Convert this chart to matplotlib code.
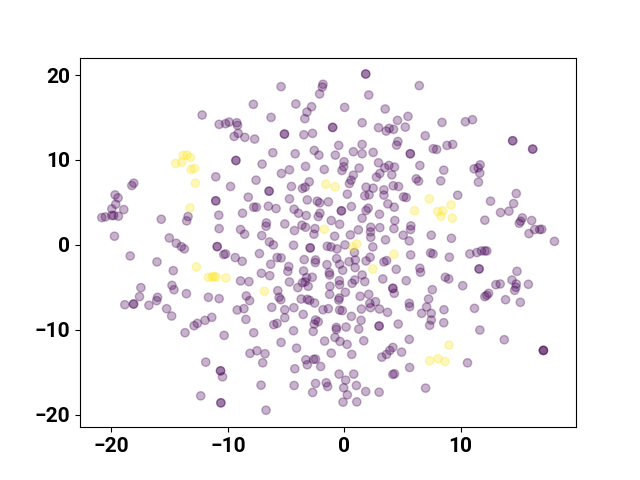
import matplotlib
matplotlib.use("Agg")
import matplotlib.pyplot as plt
import numpy as np

# points (x, y), repeated entries are the darker overlapping dots
class0 = [
    (-12.21, 15.29), (-10.75, 14.19), (-10.20, 14.27), (-9.89, 14.46), (-9.23, 14.38), (-9.17, 14.07),
    (-9.11, 13.13), (-9.46, 12.77), (-8.54, 12.66), (-9.31, 9.94), (-9.31, 9.94), (-11.04, 8.02),
    (-9.77, 6.88), (-8.25, 5.62), (-11.04, 5.19), (-11.04, 5.19), (-10.78, 3.50), (-8.74, 3.73),
    (-10.75, 1.92), (-8.91, 1.81), (-8.56, 1.26), (-15.72, 3.02), (-13.42, 3.34), (-13.54, 2.83),
    (-15.03, 0.82), (-14.43, 0.19), (-18.08, 7.27), (-18.25, 6.99), (-19.69, 5.89), (-19.43, 5.54),
    (-19.63, 4.79), (-19.97, 4.24), (-18.94, 4.16), (-20.83, 3.22), (-20.52, 3.30), (-19.97, 3.46),
    (-19.80, 3.46), (-19.40, 3.38), (-19.74, 1.02),
    (-14.00, -0.20), (-13.74, -0.47), (-10.92, -0.20), (-10.92, -0.20), (-10.20, -1.06), (-10.35, -1.14),
    (-9.37, -1.49), (-8.77, -1.93), (-18.39, -1.30), (-16.09, -2.00), (-14.69, -3.03), (-14.80, -4.76),
    (-14.63, -5.27), (-17.47, -5.03), (-17.59, -6.09), (-16.04, -6.17), (-16.12, -6.56), (-13.56, -5.74),
    (-11.67, -6.17), (-10.75, -6.33), (-8.91, -4.24), (-8.19, -4.32), (-8.42, -6.01), (-8.13, -6.56),
    (-18.85, -7.04), (-18.10, -6.96), (-18.10, -6.96), (-16.78, -7.11), (-15.26, -7.51), (-14.83, -8.37),
    (-9.20, -7.66), (-8.62, -7.51), (-8.45, -8.77), (-11.38, -8.53), (-11.96, -8.88), (-12.62, -9.24),
    (-12.90, -9.51), (-13.68, -10.34), (-10.32, -10.65), (-8.10, -12.77), (-11.90, -13.80),
    (-10.63, -14.82), (-10.63, -14.82), (-10.46, -15.53), (-12.33, -17.77), (-10.60, -18.59), (-10.60, -18.59),
    (1.84, 20.12), (1.84, 20.12), (-5.43, 18.63), (-1.83, 18.91), (-1.89, 18.59), (-2.12, 17.77),
    (2.10, 17.65), (-7.81, 16.55), (-4.16, 16.59), (-2.81, 16.27), (-3.21, 15.64), (-3.39, 14.86),
    (-6.29, 15.01), (0.03, 16.19), (3.51, 16.00), (5.47, 15.13), (4.57, 14.66), (1.53, 14.38),
    (2.94, 13.80), (3.60, 13.40), (3.86, 13.72), (4.23, 13.60), (5.24, 13.87), (-1.00, 13.83), (-1.00, 13.83),
    (-5.14, 13.05), (-5.14, 13.05), (-3.47, 12.97), (-2.73, 13.13), (-7.70, 12.46), (4.60, 12.18),
    (4.49, 11.75), (1.53, 11.83), (-0.48, 11.71), (-2.58, 11.12), (-2.18, 10.57), (-6.14, 10.85),
    (-4.22, 10.73), (-0.77, 10.57), (0.78, 10.97), (1.53, 10.73), (2.48, 10.89), (5.67, 10.73), (5.67, 10.73),
    (-7.06, 9.51), (-0.02, 9.79), (-0.05, 9.20), (-0.20, 8.76), (-3.33, 9.24), (-1.72, 8.88), (-4.71, 8.84),
    (-5.40, 8.41), (1.27, 9.04), (2.94, 9.67), (3.48, 9.08), (3.83, 9.35), (4.31, 9.16), (3.05, 8.41),
    (2.76, 7.98), (4.08, 8.25), (0.78, 8.21), (0.58, 7.62), (0.44, 7.23), (-7.58, 7.62), (6.18, 7.78),
    (-3.01, 7.43), (-3.36, 6.80), (-3.59, 6.64), (-4.54, 6.88), (-6.46, 6.33), (-6.46, 6.33), (1.87, 6.80),
    (2.48, 6.68), (3.40, 6.48), (4.20, 6.96), (4.66, 6.88), (0.26, 5.97), (2.13, 5.89), (1.76, 5.78),
    (3.40, 5.86), (5.09, 5.66), (5.32, 5.58), (-4.71, 5.42), (-3.18, 5.30), (-2.32, 5.15), (-2.12, 4.95),
    (-1.37, 5.07), (-7.78, 4.44), (-7.55, 4.44), (-6.52, 4.56), (-5.86, 4.28), (-4.31, 4.20), (-3.93, 3.73),
    (-3.27, 3.46), (3.74, 4.83), (4.29, 4.44), (0.61, 4.52), (-0.25, 4.01), (-0.25, 4.01), (2.05, 4.32),
    (1.87, 4.05), (3.02, 3.61), (1.53, 3.14), (-2.09, 3.73), (-2.24, 3.34), (-6.69, 2.59), (-6.72, 2.20),
    (-5.11, 2.47), (-1.12, 2.87), (-0.40, 2.43), (4.34, 2.87), (-3.64, 2.32), (-3.33, 2.08), (-4.28, 1.69),
    (-2.52, 1.92), (-2.61, 1.26), (2.27, 2.08), (2.25, 1.53), (2.27, 0.90), (3.05, 2.04), (4.26, 1.92),
    (5.72, 2.24), (5.69, 1.81), (1.21, 1.77), (0.52, 1.18), (-0.83, 1.02), (-7.09, 1.10), (5.06, 1.14),
    (-6.43, 0.35), (3.54, 0.59), (5.58, 0.47),
    (-6.09, 0.00), (-4.36, -0.04), (-2.93, -0.35), (-2.93, -0.35), (-1.46, -0.16), (-1.14, -0.24),
    (-0.63, -0.47), (0.06, 0.00), (2.45, -0.24), (-7.29, -1.02), (-5.77, -1.49), (-5.43, -1.53),
    (-3.44, -1.73), (-2.47, -1.77), (-2.49, -2.08), (-0.66, -1.61), (-0.40, -2.28), (0.41, -1.97),
    (0.95, -1.77), (0.93, -2.67), (1.87, -1.89), (2.22, -1.45), (0.87, -0.90), (3.40, -2.00), (3.63, -1.85),
    (5.70, -1.18), (-6.32, -2.28), (-4.77, -2.55), (-4.85, -3.11), (-3.50, -3.07), (-1.49, -2.32),
    (-0.14, -2.99), (-1.29, -3.26), (-1.26, -3.54), (1.53, -3.54), (4.46, -2.87), (-7.12, -3.34),
    (-6.40, -3.62), (-2.75, -3.81), (-3.24, -3.85), (-4.71, -4.36), (-3.59, -4.44), (-3.36, -4.36),
    (-3.10, -4.87), (-3.99, -5.03), (-0.43, -4.21), (-0.40, -4.68), (-1.23, -4.87), (0.67, -4.52),
    (0.90, -4.13), (1.76, -4.32), (3.31, -4.01), (5.32, -4.21), (4.17, -5.11), (4.17, -5.11), (4.29, -5.70),
    (-5.71, -5.39), (0.09, -5.58), (-1.26, -5.82), (2.10, -5.82), (1.36, -6.05), (-5.60, -6.17),
    (-5.45, -6.45), (-3.70, -6.37), (-3.18, -6.41), (-2.98, -6.53), (-2.55, -6.84), (-0.43, -6.25),
    (-0.48, -6.49), (2.19, -6.88), (2.25, -7.39), (2.68, -6.68), (5.58, -6.88), (5.61, -7.27), (-6.23, -7.35),
    (-4.33, -7.39), (-5.11, -7.63), (-5.11, -8.57), (-3.53, -8.18), (-1.83, -7.63), (-1.37, -7.51),
    (-0.40, -7.67), (-0.17, -7.74), (1.47, -7.55), (3.02, -7.55), (3.71, -7.94), (0.61, -8.41), (1.44, -8.88),
    (-5.77, -9.24), (-6.06, -9.39), (-2.58, -9.32), (-2.47, -8.84), (-2.24, -9.04), (-4.36, -10.10),
    (-2.67, -10.18), (-0.68, -9.71), (-0.68, -9.95), (0.15, -9.67), (1.24, -9.91), (2.99, -9.55), (2.99, -9.55),
    (4.63, -9.32), (-7.78, -10.34), (-1.69, -11.32), (-0.80, -10.89), (-0.37, -11.36), (0.24, -11.71),
    (1.67, -11.28), (5.58, -11.12), (-5.43, -11.48), (-4.10, -12.15), (-7.50, -12.46), (-6.81, -12.81),
    (-1.12, -12.74), (0.64, -12.89), (4.17, -12.07), (3.91, -12.42), (3.63, -12.89), (3.22, -13.21),
    (4.92, -12.62), (-7.01, -13.88), (-3.30, -13.52), (-3.18, -14.11), (-2.64, -13.48), (-2.47, -13.44),
    (-2.03, -14.31), (-4.25, -14.58), (5.61, -14.43), (-0.45, -15.21), (0.81, -15.21), (0.12, -15.92),
    (4.17, -15.25), (4.31, -15.17), (-7.15, -16.51), (-4.31, -16.55), (-2.47, -16.31), (-1.55, -16.23),
    (-1.43, -16.67), (-0.05, -16.82), (1.04, -16.55), (-2.72, -17.37), (0.26, -17.65), (1.84, -17.26),
    (2.99, -17.34), (-0.11, -18.51), (1.07, -18.48), (-6.72, -19.46),
    (6.44, 18.75), (8.39, 14.42), (10.40, 14.50), (11.01, 14.74), (6.95, 12.85), (7.64, 11.32), (7.93, 11.24),
    (8.82, 11.71), (9.31, 11.83), (14.46, 12.26), (14.46, 12.26), (16.18, 11.28), (16.18, 11.28), (6.49, 9.35),
    (8.54, 8.80), (11.15, 8.96), (11.50, 9.08), (11.67, 9.43), (11.64, 8.45), (11.52, 7.39), (6.38, 7.51),
    (8.28, 7.54), (9.74, 5.85), (12.56, 5.15), (14.77, 6.05), (14.54, 4.87), (13.42, 3.81), (14.14, 3.97),
    (15.29, 3.18), (15.15, 2.79), (15.03, 2.55), (16.09, 2.87), (15.86, 1.33), (16.35, 1.81), (16.78, 1.81),
    (16.96, 1.84), (18.05, 0.42), (12.07, 2.91), (7.47, 1.14), (9.20, 0.78),
    (7.41, -0.94), (7.62, -1.06), (9.02, -1.45), (10.78, -1.06), (11.38, -0.90), (11.78, -0.71), (12.07, -0.71),
    (12.24, -0.71), (6.49, -2.75), (6.55, -3.22), (11.58, -2.83), (11.58, -2.83), (14.83, -3.11), (8.68, -3.81),
    (8.97, -4.01), (10.17, -4.80), (14.40, -4.13), (13.02, -4.68), (13.39, -4.60), (15.81, -4.64),
    (14.77, -4.60), (14.74, -4.99), (14.63, -5.35), (7.56, -5.27), (7.24, -6.37), (12.39, -5.70), (12.24, -5.94),
    (12.07, -6.09), (13.85, -6.45), (15.12, -6.76), (7.07, -7.31), (7.47, -8.06), (6.64, -8.06), (8.56, -7.63),
    (11.18, -7.47), (7.47, -8.84), (7.33, -9.47), (8.54, -9.16), (11.64, -10.02), (13.74, -11.16),
    (17.10, -12.42), (17.10, -12.42), (17.10, -12.42), (10.58, -13.88), (6.98, -16.86),
]
class1 = [
    (-13.85, 10.53), (-13.51, 10.57), (-13.22, 10.30), (-13.94, 9.75), (-14.48, 9.59), (-12.87, 9.00),
    (-13.16, 8.88), (-12.79, 7.27), (-13.25, 4.36), (-12.70, -2.59), (-11.67, -3.81), (-11.35, -3.77),
    (-11.18, -3.73), (-11.01, -3.77), (-10.17, -3.89), (-1.58, 7.15), (-0.80, 6.84), (6.04, 4.01),
    (-1.72, 1.84), (1.07, 0.11), (0.72, -0.24), (4.26, -1.10), (2.45, -2.83), (-6.86, -5.46),
    (7.30, 5.42), (8.02, 3.93), (8.45, 4.01), (8.31, 3.38), (9.17, 4.71), (9.28, 3.14),
    (8.99, -11.79), (7.33, -13.64), (8.05, -13.40), (8.65, -13.72),
]
x_ticks = [-20, -10, 0, 10]
y_ticks = [-20, -10, 0, 10, 20]

pts = np.array(class0 + class1)
labels = [0] * len(class0) + [1] * len(class1)

fig, ax = plt.subplots(figsize=(6.4, 4.8), dpi=100)
ax.scatter(pts[:, 0], pts[:, 1], c=labels, cmap='viridis', alpha=0.3)
ax.set_xlim(-22.7, 19.9)
ax.set_ylim(-21.46, 22.05)
ax.set_xticks(x_ticks)
ax.set_yticks(y_ticks)
for lab in ax.get_xticklabels() + ax.get_yticklabels():
    lab.set_fontfamily('Roboto')
    lab.set_fontweight('bold')
    lab.set_fontsize(15)

fig.savefig('out.png', dpi=100)
